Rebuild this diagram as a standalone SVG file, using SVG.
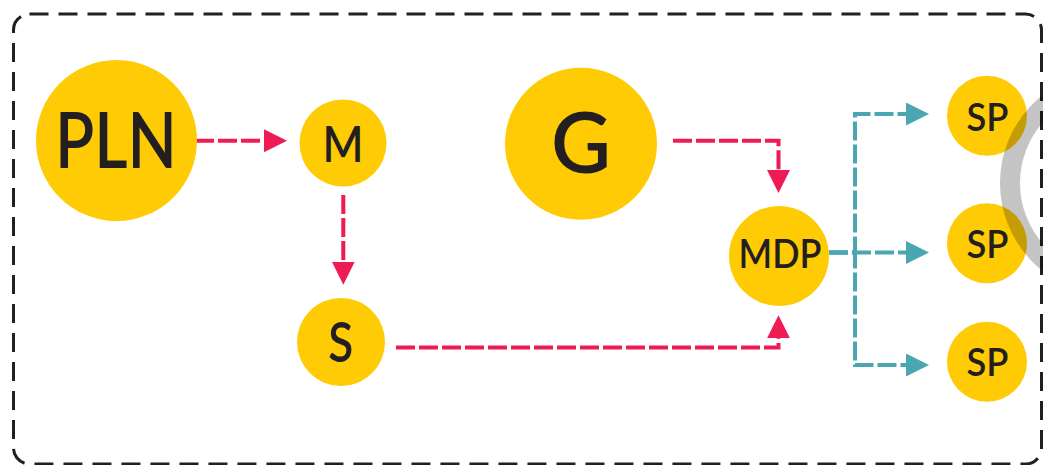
<svg xmlns="http://www.w3.org/2000/svg" width="1043" height="465" viewBox="0 0 1043 465">
  <defs>
    <style>
      .node { fill: #ffcb05; }
      .lbl { font-family: "Lato", "Liberation Sans", sans-serif; font-weight: 600; fill: #231f20; text-anchor: middle; }
      .pink { fill: none; stroke: #ee1b55; stroke-width: 4; stroke-dasharray: 19 4; }
      .teal { fill: none; stroke: #4aa7b1; stroke-width: 4; stroke-dasharray: 19 4; }
      .frame { fill: none; stroke: #231f20; stroke-width: 3; stroke-dasharray: 19 10; }
    </style>
    <marker id="headPink" viewBox="0 0 23 23" refX="0" refY="11.5" markerWidth="23" markerHeight="23" markerUnits="userSpaceOnUse" orient="auto">
      <path d="M0,0 L23,11.5 L0,23 Z" fill="#ee1b55"/>
    </marker>
    <marker id="headTeal" viewBox="0 0 23 23" refX="0" refY="11.5" markerWidth="23" markerHeight="23" markerUnits="userSpaceOnUse" orient="auto">
      <path d="M0,0 L23,11.5 L0,23 Z" fill="#4aa7b1"/>
    </marker>
  </defs>

  <rect width="1043" height="465" fill="#ffffff"/>

  <!-- dashed outer frame -->
  <rect class="frame" x="13.5" y="14" width="1028" height="450" rx="16" ry="16"/>

  <!-- connectors -->
  <g id="connectors">
    <path class="pink" d="M195,140.7 H264" marker-end="url(#headPink)"/>
    <path class="pink" d="M343.3,195 V261.7" marker-end="url(#headPink)"/>
    <path class="pink" d="M396,347.5 H778.5 V338.3" marker-end="url(#headPink)"/>
    <path class="pink" d="M673,140.7 H778.5 V170" marker-end="url(#headPink)"/>
    <path class="teal" d="M829,252.5 H855 V114 H906" marker-end="url(#headTeal)"/>
    <path class="teal" d="M829,252.5 H906" marker-end="url(#headTeal)"/>
    <path class="teal" d="M829,252.5 H855 V365 H906" marker-end="url(#headTeal)"/>
  </g>

  <!-- nodes -->
  <g id="node-pln">
    <circle class="node" cx="116.5" cy="140.5" r="80.5"/>
    <text class="lbl" x="116" y="168.3" font-size="77" textLength="122" lengthAdjust="spacingAndGlyphs">PLN</text>
  </g>
  <g id="node-m">
    <circle class="node" cx="343" cy="143" r="43.5"/>
    <text class="lbl" x="343" y="161.7" font-size="50" textLength="41" lengthAdjust="spacingAndGlyphs">M</text>
  </g>
  <g id="node-s">
    <circle class="node" cx="341" cy="342" r="44"/>
    <text class="lbl" x="340.8" y="362" font-size="55" textLength="25" lengthAdjust="spacingAndGlyphs">S</text>
  </g>
  <g id="node-g">
    <circle class="node" cx="581" cy="143.7" r="76"/>
    <text class="lbl" x="581" y="173" font-size="84" textLength="60" lengthAdjust="spacingAndGlyphs">G</text>
  </g>
  <g id="node-mdp">
    <circle class="node" cx="779" cy="256" r="50"/>
    <text class="lbl" x="780" y="268.3" font-size="39.5" textLength="83" lengthAdjust="spacingAndGlyphs">MDP</text>
  </g>
  <g id="node-sp1">
    <circle class="node" cx="987" cy="115.7" r="40"/>
    <text class="lbl" x="987.5" y="130.7" font-size="39" textLength="42" lengthAdjust="spacingAndGlyphs">SP</text>
  </g>
  <g id="node-sp2">
    <circle class="node" cx="987" cy="243.3" r="40"/>
    <text class="lbl" x="987.5" y="258.3" font-size="39" textLength="42" lengthAdjust="spacingAndGlyphs">SP</text>
  </g>
  <g id="node-sp3">
    <circle class="node" cx="987" cy="361.7" r="40"/>
    <text class="lbl" x="987.5" y="376" font-size="39" textLength="42" lengthAdjust="spacingAndGlyphs">SP</text>
  </g>

  <!-- translucent grey ring at the right edge -->
  <circle cx="1112" cy="183" r="102" fill="none" stroke="#000000" stroke-opacity="0.23" stroke-width="20"/>
</svg>
